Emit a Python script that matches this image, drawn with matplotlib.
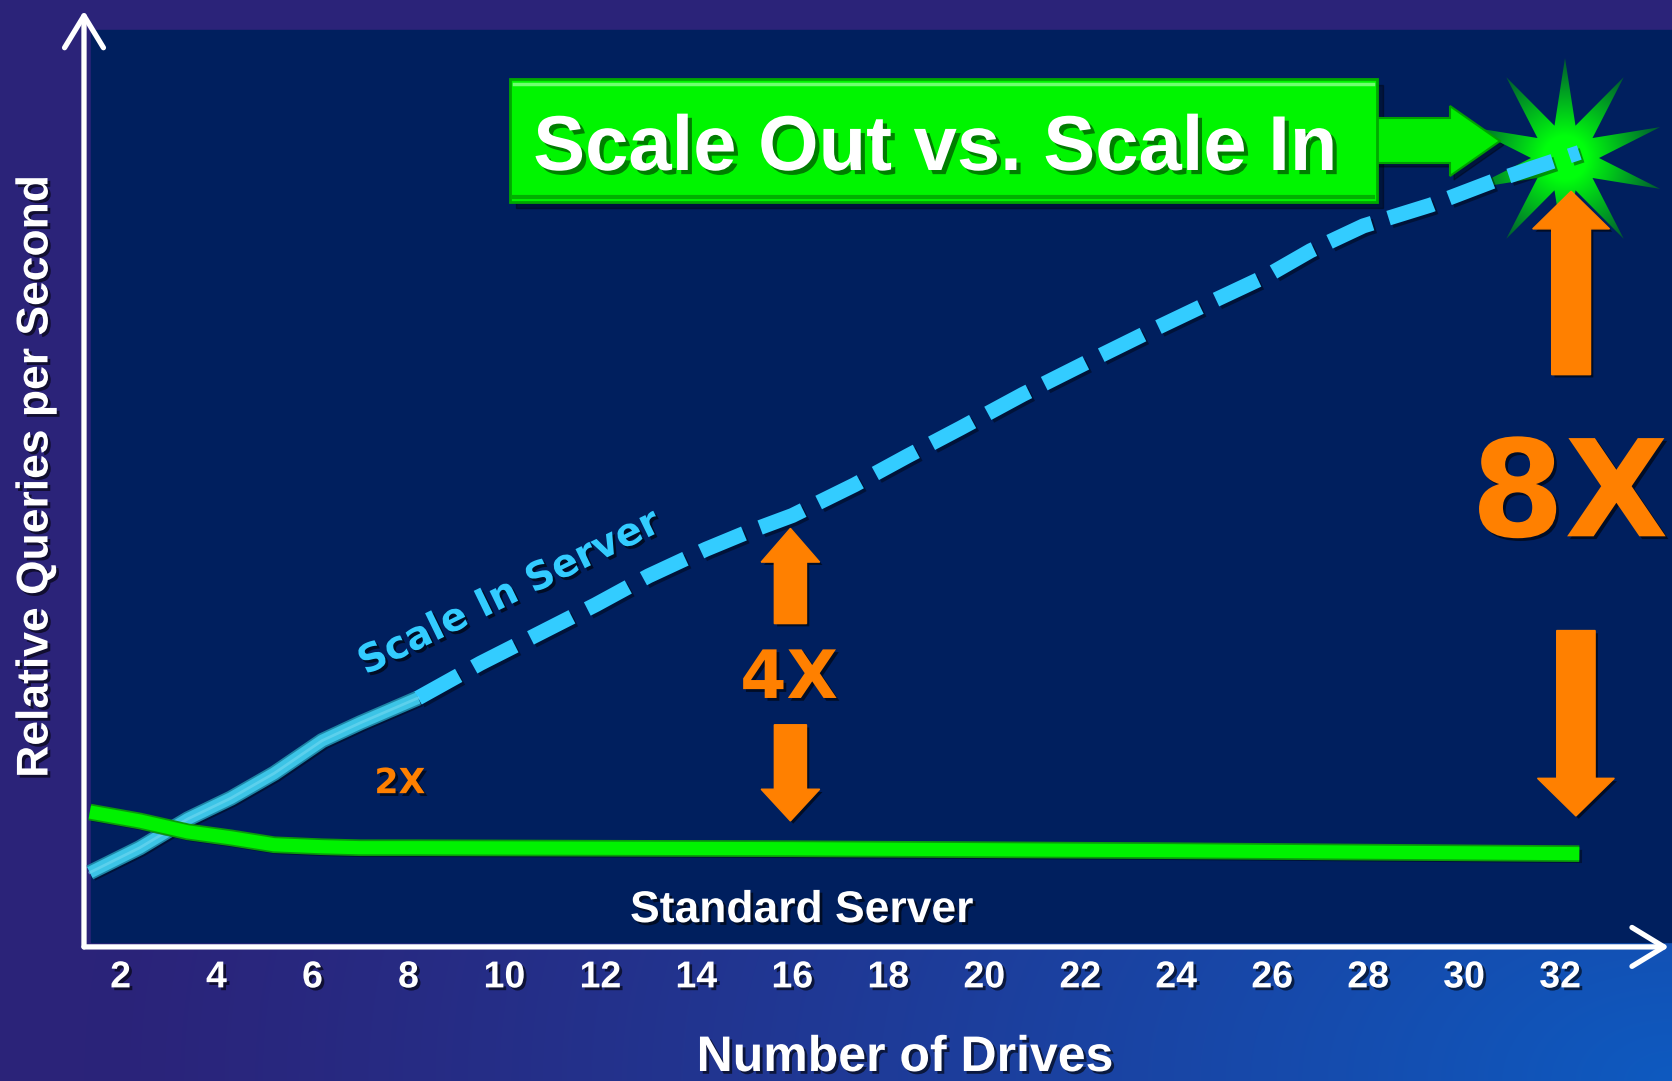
import numpy as np
import matplotlib
matplotlib.use("Agg")
import matplotlib.pyplot as plt
from matplotlib import patheffects as pe
from matplotlib.patches import Rectangle, Polygon, FancyArrow

plt.rcParams['font.family'] = ['Liberation Sans', 'DejaVu Sans']

# values (relative queries/s, 1 = standard server)
drives_in = [1.36, 2.4, 3.4, 4.3, 5.2, 6.2, 7.0, 8.2]
qps_in = [0.75, 1.00, 1.29, 1.50, 1.75, 2.08, 2.26, 2.51]
drives_proj = [8.2, 9.5, 10.6, 11.9, 13.0, 14.2, 15.0, 16.0, 17.3, 18.4, 19.5,
               20.8, 22.2, 23.5, 24.8, 25.9, 26.8, 27.9, 29.3, 30.6, 32.4]
qps_proj = [2.51, 2.86, 3.13, 3.45, 3.74, 4.01, 4.17, 4.35, 4.66, 4.95, 5.23,
            5.57, 5.91, 6.22, 6.52, 6.77, 7.02, 7.27, 7.48, 7.72, 8.01]
drives_std = [1.36, 2.4, 3.4, 4.3, 5.2, 6.2, 7.0, 8.2, 16.0, 23.9, 32.4]
qps_std = [1.36, 1.27, 1.16, 1.10, 1.03, 1.01, 1.00, 1.00, 0.99, 0.97, 0.94]
xticks = list(range(2, 33, 2))

W, H = 1672, 1081
fig = plt.figure(figsize=(W / 100, H / 100), dpi=100)

# ---- background (pixel coords) ----
bg = fig.add_axes([0, 0, 1, 1], zorder=0)
bg.set_xlim(0, W)
bg.set_ylim(H, 0)
bg.axis('off')
yy, xx = np.mgrid[0:H, 0:W]
d = np.sqrt((1 - xx / W) ** 2 + (1 - yy / H) ** 2)
t = np.clip(1 - d / 0.95, 0, 1)[..., None] ** 1.2
purple = np.array([43, 35, 121]) / 255
blue = np.array([14, 90, 192]) / 255
bg.imshow(purple * (1 - t) + blue * t, extent=[0, W, H, 0], aspect='auto', zorder=0)
bg.add_patch(Rectangle((91, 30), W - 91, 912, color='#001f5e', zorder=1))

# title box
bg.add_patch(Rectangle((516, 85), 867, 123, color='black', alpha=0.35, zorder=2))
bg.add_patch(Rectangle((510, 79), 867, 123, facecolor='#00f500', edgecolor='#00a800',
                       lw=2, zorder=3))
bg.plot([514, 1373], [84, 84], color='#70ff70', lw=2.5, zorder=4)
bg.plot([514, 1373], [197, 197], color='#00b000', lw=3, zorder=4)
bg.text(935, 170, 'Scale Out vs. Scale In', color='white', fontsize=56,
        fontweight='bold', ha='center', va='baseline', zorder=5,
        path_effects=[pe.withSimplePatchShadow(offset=(3, -3),
                                               shadow_rgbFace='#006000', alpha=0.8)])

# green arrow from the title to the star
arr = [(1370, 118), (1450, 118), (1450, 106), (1500, 141), (1450, 176), (1450, 163), (1370, 163)]
bg.add_patch(Polygon([(x + 4, y + 4) for x, y in arr], color='black', alpha=0.35, zorder=2))
bg.add_patch(Polygon(arr, facecolor='#00ee00', edgecolor='#00a000', lw=1.5, zorder=2.5))

# star burst
cx, cy = 1565, 158
ang = np.deg2rad(90 + 18 * np.arange(20))
rad = np.where(np.arange(20) % 2 == 0, 100, 34)
star = Polygon(np.c_[cx + rad * np.cos(ang), cy - rad * np.sin(ang)], closed=True,
               facecolor='none', edgecolor='none', zorder=2)
bg.add_patch(star)
gy, gx = np.mgrid[-102:103, -102:103]
gr = np.clip((np.hypot(gx, gy) - 22) / 80, 0, 1)[..., None]
glow = np.array([0, 1.0, 0.05]) * (1 - gr) + np.array([0, 0.33, 0.2]) * gr
im = bg.imshow(glow, extent=[cx - 102, cx + 102, cy + 102, cy - 102], aspect='auto', zorder=2)
im.set_clip_path(star)

# ---- chart axes (data coords) ----
ax = fig.add_axes([84 / W, (H - 946.9) / H, (1669 - 84) / W, (946.9 - 10.7) / H], zorder=1)
ax.set_facecolor('none')
ax.set_xlim(1.238, 34.27)
ax.set_ylim(0, 9.44)
for s in ax.spines.values():
    s.set_visible(False)
ax.set_yticks([])
ax.set_xticks(xticks)
ax.tick_params(axis='x', length=0, pad=9, labelsize=27, labelcolor='white')
for lbl in ax.get_xticklabels():
    lbl.set_fontweight('bold')
    lbl.set_path_effects([pe.withSimplePatchShadow(offset=(2, -2), shadow_rgbFace='black', alpha=0.6)])

arrow_kw = dict(arrowstyle='->,head_length=2.3,head_width=1.4', lw=3.8, color='white',
                shrinkA=0, shrinkB=0)
ax.annotate('', xy=(1, 0), xytext=(0, 0), xycoords='axes fraction', arrowprops=arrow_kw)
ax.annotate('', xy=(0, 1), xytext=(0, 0), xycoords='axes fraction', arrowprops=arrow_kw)

# scale in server: measured (solid) then projected (dashed)
ax.plot(drives_in, qps_in, color='#3cc4e6', lw=8.5, solid_capstyle='butt', zorder=3,
        path_effects=[pe.SimpleLineShadow(offset=(2, -2), alpha=0.4),
                      pe.Stroke(linewidth=11, foreground='#1e86a6'), pe.Normal()])
ax.plot(drives_in, qps_in, color='#7ddcf2', lw=2, zorder=3.1, alpha=0.5)
ax.plot(drives_proj, qps_proj, color='#33ccff', lw=10.8, dashes=(3.1, 1.15),
        dash_capstyle='butt', zorder=3,
        path_effects=[pe.SimpleLineShadow(offset=(2, -2), alpha=0.4), pe.Normal()])

# standard server
ax.plot(drives_std, qps_std, color='#00f200', lw=9.5, solid_capstyle='butt', zorder=4,
        path_effects=[pe.SimpleLineShadow(offset=(2, -2), alpha=0.4),
                      pe.Stroke(linewidth=12, foreground='#0a9a0a'), pe.Normal()])

txt_shadow = [pe.withSimplePatchShadow(offset=(2, -2), shadow_rgbFace='black', alpha=0.6)]
ax.text(10.2, 3.47, 'Scale In Server', color='#33ccff', fontsize=28, fontweight='bold',
        family='DejaVu Sans', rotation=26, rotation_mode='anchor', ha='center',
        va='baseline', path_effects=txt_shadow, zorder=5)
ax.text(16.2, 0.25, 'Standard Server', color='white', fontsize=32, fontweight='bold',
        ha='center', va='baseline', path_effects=txt_shadow, zorder=5)

# multiplier callouts
orange = '#ff8000'
ax.text(7.82, 1.55, '2X', color=orange, fontsize=25, fontweight='bold',
        family='DejaVu Sans', ha='center', va='baseline', path_effects=txt_shadow)
ax.text(15.93, 2.51, '4X', color=orange, fontsize=48, fontweight='bold',
        family='DejaVu Sans', ha='center', va='baseline', path_effects=txt_shadow)
ax.text(32.2, 4.14, '8X', color=orange, fontsize=97, fontweight='bold',
        family='DejaVu Sans', ha='center', va='baseline', path_effects=txt_shadow)

callouts = [(15.96, 3.26, 0.96, 0.67, 1.22, 0.34),
            (15.96, 2.24, -0.97, 0.67, 1.22, 0.32),
            (32.23, 5.77, 1.85, 0.81, 1.6, 0.38),
            (32.33, 3.19, -1.87, 0.8, 1.6, 0.38)]
for x0, y0, dy, w, hw, hl in callouts:
    ax.add_patch(FancyArrow(x0, y0, 0, dy, width=w, head_width=hw, head_length=hl,
                            length_includes_head=True, color=orange, zorder=6,
                            path_effects=txt_shadow))

fig.text(905 / W, 1 - 1071 / H, 'Number of Drives', color='white', fontsize=36,
         fontweight='bold', ha='center', va='baseline', path_effects=txt_shadow)
fig.text(47.5 / W, 1 - 476 / H, 'Relative Queries per Second', color='white', fontsize=32,
         fontweight='bold', rotation=90, rotation_mode='anchor', ha='center',
         va='baseline', path_effects=txt_shadow)

fig.savefig('out.png', dpi=100)
